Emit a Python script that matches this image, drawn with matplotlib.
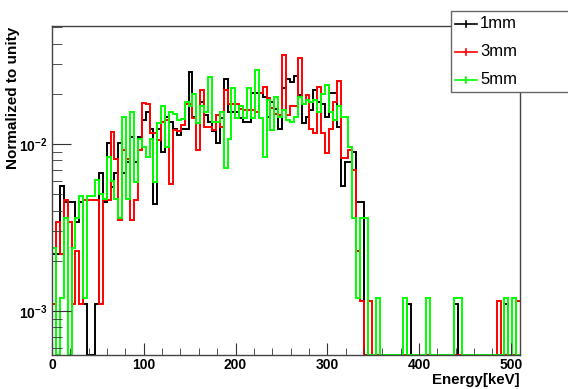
import numpy as np
import matplotlib
matplotlib.use("Agg")
import matplotlib.pyplot as plt
from matplotlib.lines import Line2D
from matplotlib.patches import Rectangle
from matplotlib.ticker import MultipleLocator, FixedLocator, FixedFormatter, LogLocator, NullFormatter

plt.rcParams['font.family'] = ['Liberation Sans', 'DejaVu Sans']
plt.rcParams['font.weight'] = 'bold'
plt.rcParams['mathtext.fontset'] = 'custom'
plt.rcParams['mathtext.rm'] = 'Liberation Sans:bold'
plt.rcParams['mathtext.bf'] = 'Liberation Sans:bold'

# histogram: 120 bins from 0 to 510 keV, contents in units of 1e-3
e_lo, e_hi, n_bins = 0, 510, 120

h_1mm = [2.2, 2.2, 5.6, 4.5, 4.5, 4.5, 3.4, 4.5, 1.1, 0,
         0, 1.1, 6.7, 4.5, 10.1, 5.5, 6.7, 10.1, 6.7, 7.8,
         11, 7.8, 11, 14, 15.6, 12.4, 4.4, 12.4, 9.0, 14.6,
         13.6, 12.4, 11.3, 12.4, 12.3, 27, 14.6, 13.3, 17.9, 15,
         13.5, 12, 10.1, 14.3, 24.7, 15.6, 15.6, 15.6, 14.3, 13.6,
         13.6, 20.1, 20.1, 20.1, 19.2, 14.6, 17.9, 16.2, 12.3, 21.8,
         24.7, 23.6, 25.6, 19.6, 13.3, 14.6, 16, 21, 17.9, 17.5,
         14.6, 20.1, 20.1, 12.7, 5.6, 7.8, 7.8, 9.0, 4.5, 4.5,
         0, 0, 0, 0, 0, 0, 0, 0, 0, 0,
         0, 1.1, 0, 0, 0, 0, 0, 0, 0, 0,
         0, 0, 0, 1.1, 0, 0, 0, 0, 0, 0,
         0, 0, 0, 0, 0, 0, 1.1, 0, 0, 0]

h_3mm = [1.1, 3.4, 2.2, 4.6, 3.4, 1.1, 2.3, 1.1, 4.6, 4.6,
         4.6, 4.6, 1.1, 4.6, 4.6, 11.8, 8.1, 3.5, 9.2, 8.1,
         3.5, 4.6, 9.2, 17.6, 17.5, 11.6, 11.6, 10.6, 13.6, 13.9,
         5.8, 12.1, 12, 13, 17.5, 17.5, 14.3, 9.2, 21, 12.7,
         12.7, 12.2, 14.9, 12.7, 21, 17.5, 17.5, 17.5, 16.3, 15.9,
         15.9, 15.9, 15.6, 20.1, 22, 18.8, 16.5, 15.2, 14.9, 34,
         14.9, 17, 17, 32.6, 17.5, 19.6, 12.4, 11.7, 22, 11.7,
         8.8, 12.4, 17.9, 24, 8.2, 8.2, 9.2, 7.0, 2.3, 1.15,
         0, 1.15, 0, 0, 0, 0, 0, 0, 0, 0,
         0, 0, 0, 0, 0, 0, 0, 0, 0, 0,
         0, 0, 0, 0, 0, 0, 0, 0, 0, 0,
         0, 0, 0, 0, 1.15, 0, 0, 0, 0, 1.15]

h_5mm = [2.4, 0, 1.2, 3.6, 0, 2.4, 3.6, 4.9, 1.2, 4.9,
         4.9, 6.1, 5.0, 4.7, 8.4, 6.0, 4.7, 3.6, 14.6, 4.7,
         15.6, 5.9, 10.8, 9.6, 8.4, 10.8, 5.9, 13.3, 16.8, 9.6,
         15.6, 15.2, 13.9, 14.2, 17.9, 16.8, 20, 13.3, 16.8, 15.6,
         25.4, 13.5, 13.5, 15.6, 7.2, 10.8, 21.6, 14.3, 16.8, 14.3,
         21.6, 14.3, 27.7, 14.3, 8.4, 18.3, 12.1, 19.2, 14.6, 16,
         14, 13.6, 14.6, 19.2, 17.5, 18.3, 17.9, 18.3, 15.6, 20,
         22.6, 15.6, 14, 17, 14.6, 14.6, 9.6, 3.6, 1.2, 3.6,
         3.6, 0, 0, 1.2, 0, 0, 0, 0, 0, 0,
         1.2, 0, 0, 0, 0, 0, 1.2, 0, 0, 0,
         0, 0, 0, 1.2, 1.2, 0, 0, 0, 0, 0,
         0, 0, 0, 0, 0, 0, 1.2, 0, 1.2, 0]

labels = ["1mm", "3mm", "5mm"]
colors = ["black", "#ff0000", "#00ff00"]

ymin, ymax = 5.45e-4, 0.051
edges = np.linspace(e_lo, e_hi, n_bins + 1)

W, H = 568, 389
fig = plt.figure(figsize=(W/100, H/100), dpi=100)
ax = fig.add_axes([52/W, 1 - 355/H, 468/W, 329/H])

for h, c in zip([h_1mm, h_3mm, h_5mm], colors):
    # empty bins are drawn on the frame bottom, like ROOT does
    v = np.clip(np.array(h) * 1e-3, ymin, None)
    ax.stairs(v, edges, color=c, lw=1.4, baseline=None)

ax.set_yscale("log")
ax.set_xlim(e_lo, e_hi)
ax.set_ylim(ymin, ymax)

ax.xaxis.set_major_locator(MultipleLocator(100))
ax.xaxis.set_minor_locator(MultipleLocator(20))
ax.yaxis.set_major_locator(FixedLocator([1e-3, 1e-2]))
ax.yaxis.set_major_formatter(FixedFormatter([r"$\mathbf{10^{-3}}$", r"$\mathbf{10^{-2}}$"]))
ax.yaxis.set_minor_locator(LogLocator(base=10, subs=range(2, 10)))
ax.yaxis.set_minor_formatter(NullFormatter())

ax.tick_params(which="both", direction="in", top=False, right=False,
               colors="#333333", labelcolor="black", labelsize=10)
ax.tick_params(axis="x", which="major", length=9, pad=2.5)
ax.tick_params(axis="x", which="minor", length=5)
ax.tick_params(axis="y", which="major", length=14)
ax.tick_params(axis="y", which="minor", length=7)
for s in ax.spines.values():
    s.set_color("#444444")
    s.set_linewidth(1.0)

fig.text(520/W, 1 - 380/H, "Energy[keV]", ha="right", va="center", fontsize=10.8, weight="bold")
fig.text(13/W, 1 - 27/H, "Normalized to unity", rotation=90, ha="center", va="top",
         fontsize=11, weight="bold")

# legend box in the ROOT style, running off the right edge
fig.add_artist(Rectangle((451/W, 1 - 92/H), 130/W, 81/H, transform=fig.transFigure,
                         facecolor="white", edgecolor="#666666", lw=1.0, zorder=5))
for i, (lab, c) in enumerate(zip(labels, colors)):
    yy = 1 - (24 + 28*i)/H
    fig.add_artist(Line2D([455/W, 477/W], [yy, yy], transform=fig.transFigure,
                          color=c, lw=1.2, zorder=6))
    fig.add_artist(Line2D([466/W, 466/W], [yy - 3/H, yy + 3/H], transform=fig.transFigure,
                          color=c, lw=1.2, zorder=6))
    fig.text(480/W, yy, lab, ha="left", va="center", fontsize=12, weight="normal", zorder=6)

fig.savefig("out.png", dpi=100)
